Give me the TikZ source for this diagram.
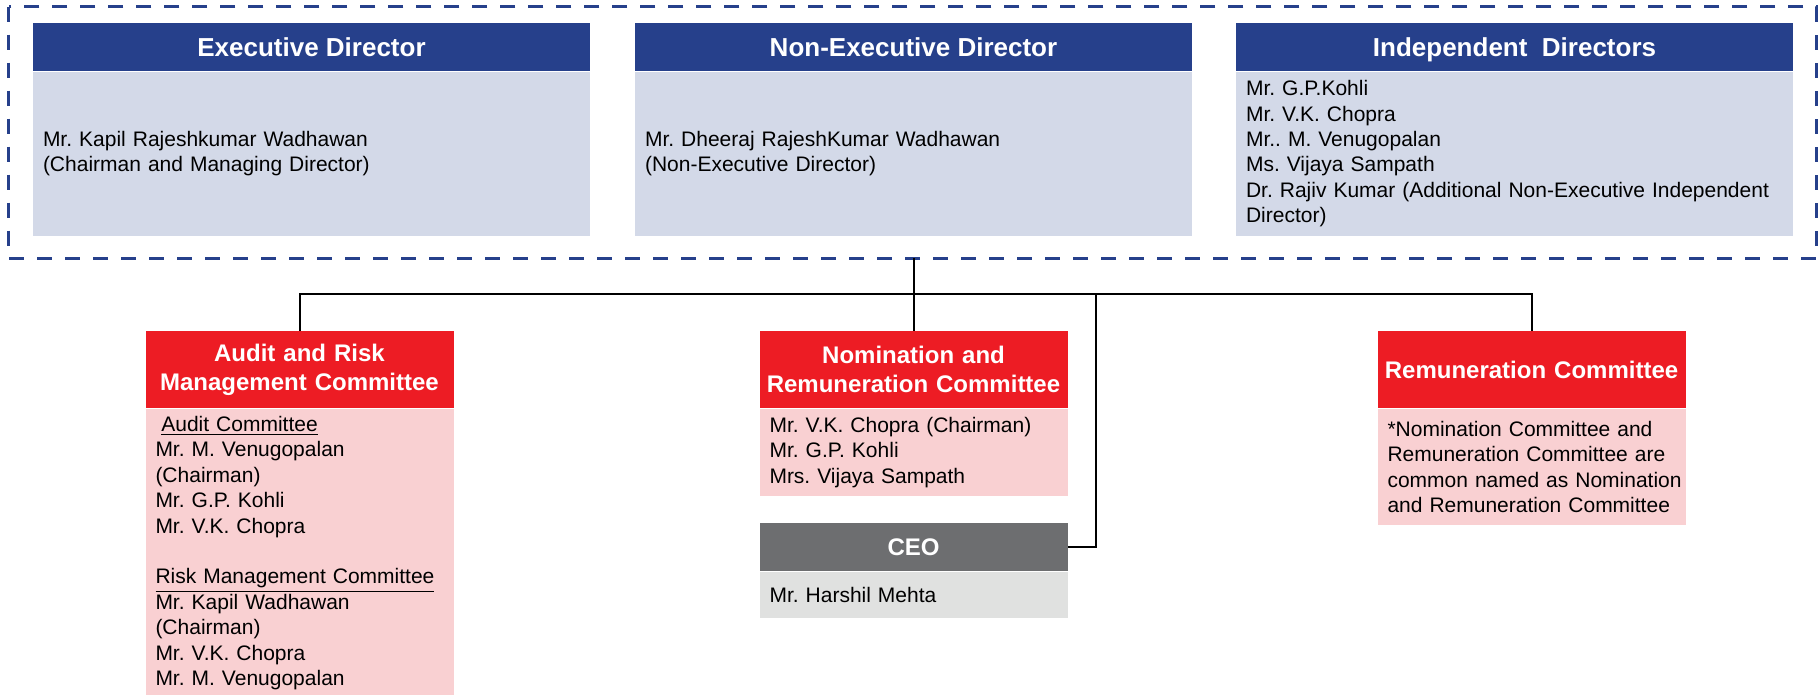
\documentclass[tikz,border=0pt]{standalone}
\usepackage{fontspec}
\setmainfont{Liberation Sans}
\usepackage{tikz}
\usetikzlibrary{positioning,calc}
\definecolor{dirblue}{RGB}{38,64,139}
\definecolor{dirfill}{RGB}{211,217,232}
\definecolor{comred}{RGB}{237,28,36}
\definecolor{compink}{RGB}{249,208,210}
\definecolor{ceogrey}{RGB}{109,110,112}
\definecolor{ceofill}{RGB}{224,225,224}
\newcommand{\orgbodyfont}{\fontsize{10.5}{12.7}\selectfont}
\newcommand{\orgheadfont}{\bfseries\fontsize{13}{15}\selectfont}
\newcommand{\comheadfont}{\bfseries\fontsize{12}{14.5}\selectfont}
\tikzstyle{dirhead}=[fill=dirblue, text=white, font=\orgheadfont,
  minimum width=278.5pt, minimum height=24pt, inner sep=0pt,
  text height=9.3pt, text depth=0pt]
\tikzstyle{dirbody}=[fill=dirfill, font=\orgbodyfont, text width=268.5pt,
  align=left, inner xsep=5pt, inner ysep=0pt]
\tikzstyle{comhead}=[fill=comred, text=white, font=\comheadfont,
  text width=154pt, align=center, inner sep=0pt, minimum height=38.5pt]
\tikzstyle{combody}=[fill=compink, font=\orgbodyfont, text width=144pt,
  align=left, inner xsep=5pt, inner ysep=0pt]
\tikzstyle{ceohead}=[comhead, fill=ceogrey, minimum height=24pt]
\tikzstyle{ceobody}=[combody, fill=ceofill]
\tikzstyle{wire}=[draw, line width=1pt, black]
\tikzstyle{board}=[draw=dirblue, line width=1.5pt, dash pattern=on 7.5pt off 6.5pt]
% title box on top of its body box
\newcommand{\orgbox}[5]{node (p#1)[#2head]{#3}
  node (p#1b)[#2body, minimum height=#4, below=0pt of p#1]{#5}}

\begin{document}
\frenchspacing
\begin{tikzpicture}[x=0.5pt, y=-0.5pt]
  \useasboundingbox (0,0) rectangle (1819,695);

  % Board of directors
  \path (311.5,47) \orgbox{exec}{dir}{Executive Director}{82pt}%
    {Mr. Kapil Rajeshkumar Wadhawan\\(Chairman and Managing Director)};
  \path (pexec)+(602,0) \orgbox{nexec}{dir}{Non-Executive Director}{82pt}%
    {Mr. Dheeraj RajeshKumar Wadhawan\\(Non-Executive Director)};
  \path (pnexec)+(601,0) \orgbox{indep}{dir}{Independent~~Directors}{82pt}%
    {Mr. G.P.Kohli\\Mr. V.K. Chopra\\Mr.. M. Venugopalan\\Ms. Vijaya Sampath\\
     Dr. Rajiv Kumar (Additional Non-Executive Independent\\Director)};

  % dashed frame round the board
  \path (pexec.north west)+(-24,-16) coordinate (b1);
  \path (pindepb.south east)+(23,22) coordinate (b2);
  \draw[board] (b1) rectangle (b2);

  % Committees
  \path (pnexecb.south |- b2)+(0,36) coordinate (bus);
  \path (bus)+(-614,75.5) \orgbox{audit}{com}{Audit and Risk\\Management Committee}{144pt}%
    {\hspace*{.28em}\underline{Audit Committee}\\Mr. M. Venugopalan\\(Chairman)\\
     Mr. G.P. Kohli\\Mr. V.K. Chopra\\[12.7pt]\underline{Risk Management Committee}\\
     Mr. Kapil Wadhawan\\(Chairman)\\Mr. V.K. Chopra\\Mr. M. Venugopalan};
  \path (bus)+(0,75.5) \orgbox{nomin}{com}{Nomination and\\Remuneration Committee}{43.5pt}%
    {Mr. V.K. Chopra (Chairman)\\Mr. G.P. Kohli\\Mrs. Vijaya Sampath};
  \path (bus)+(618,75.5) \orgbox{remun}{com}{Remuneration Committee}{58pt}%
    {*Nomination Committee and\\Remuneration Committee are\\
     \mbox{common named as Nomination}\\and Remuneration Committee};
  \path (pnominb.south)+(0,51) \orgbox{ceo}{ceo}{CEO}{23pt}{Mr. Harshil Mehta};
  \path (pceo.east |- bus)+(28,0) coordinate (ceojoin);

  % Connectors
  \path [wire] (pnexecb.south |- b2) -- (bus);
  \path [wire] (paudit.north) |- (bus) -| (premun.north);
  \path [wire] (bus) -- (pnomin.north);
  \path [wire] (ceojoin) |- (pceo.east);
\end{tikzpicture}
\end{document}
